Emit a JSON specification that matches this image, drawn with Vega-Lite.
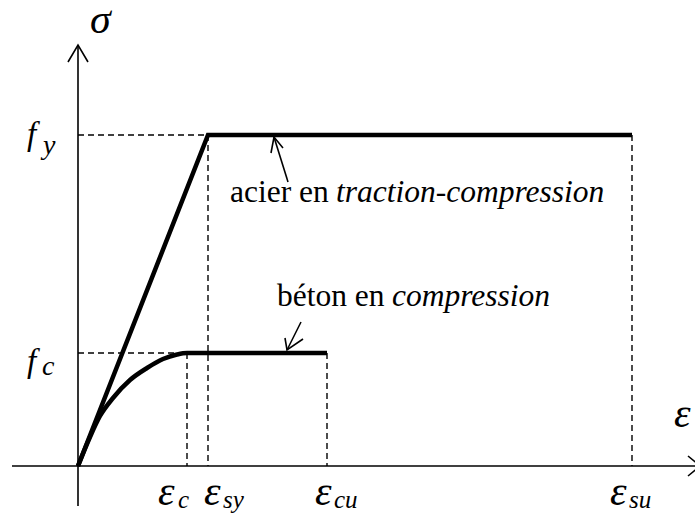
{
  "$schema": "https://vega.github.io/schema/vega-lite/v6.json",
  "width": 695,
  "height": 516,
  "autosize": "none",
  "padding": 0,
  "background": "white",
  "config": {"view": {"stroke": null}, "text": {"font": "Liberation Serif", "color": "black"}},
  "datasets": {
    "thin": [
      {"seg": "yaxis", "o": 0, "x": 0, "y": -4},
      {"seg": "yaxis", "o": 1, "x": 0, "y": 42.1},
      {"seg": "yarrow", "o": 0, "x": -1, "y": 40.4},
      {"seg": "yarrow", "o": 1, "x": 0, "y": 42.1},
      {"seg": "yarrow", "o": 2, "x": 1, "y": 40.4},
      {"seg": "xaxis", "o": 0, "x": -6.6, "y": 0},
      {"seg": "xaxis", "o": 1, "x": 62.2, "y": 0},
      {"seg": "xarrow", "o": 0, "x": 61, "y": 1},
      {"seg": "xarrow", "o": 1, "x": 62.2, "y": 0},
      {"seg": "xarrow", "o": 2, "x": 61, "y": -1},
      {"seg": "sarrow", "o": 0, "x": 21.0, "y": 28.4},
      {"seg": "sarrow", "o": 1, "x": 19.6, "y": 32.9},
      {"seg": "shead", "o": 0, "x": 19.3, "y": 31.3},
      {"seg": "shead", "o": 1, "x": 19.6, "y": 32.9},
      {"seg": "shead", "o": 2, "x": 20.5, "y": 31.8},
      {"seg": "carrow", "o": 0, "x": 22.3, "y": 14.4},
      {"seg": "carrow", "o": 1, "x": 20.9, "y": 11.6},
      {"seg": "chead", "o": 0, "x": 20.7, "y": 12.8},
      {"seg": "chead", "o": 1, "x": 20.9, "y": 11.6},
      {"seg": "chead", "o": 2, "x": 22.5, "y": 12.7}
    ],
    "dashed": [
      {"seg": "fy", "o": 0, "x": 0, "y": 33.1},
      {"seg": "fy", "o": 1, "x": 13, "y": 33.1},
      {"seg": "esy", "o": 0, "x": 13, "y": 33.1},
      {"seg": "esy", "o": 1, "x": 13, "y": 0},
      {"seg": "fc", "o": 0, "x": 0, "y": 11.3},
      {"seg": "fc", "o": 1, "x": 10.9, "y": 11.3},
      {"seg": "ec", "o": 0, "x": 10.9, "y": 11.3},
      {"seg": "ec", "o": 1, "x": 10.9, "y": 0},
      {"seg": "ecu", "o": 0, "x": 24.9, "y": 11.3},
      {"seg": "ecu", "o": 1, "x": 24.9, "y": 0},
      {"seg": "esu", "o": 0, "x": 55.4, "y": 33.1},
      {"seg": "esu", "o": 1, "x": 55.4, "y": 0}
    ],
    "steel": [
      {"o": 0, "x": 0, "y": 0},
      {"o": 1, "x": 13, "y": 33.1},
      {"o": 2, "x": 55.4, "y": 33.1}
    ],
    "concrete": [
      {"o": 0, "x": 0, "y": 0},
      {"o": 1, "x": 1.2, "y": 2.9},
      {"o": 2, "x": 2.2, "y": 5.0},
      {"o": 3, "x": 3.5, "y": 6.8},
      {"o": 4, "x": 5.2, "y": 8.6},
      {"o": 5, "x": 6.9, "y": 9.8},
      {"o": 6, "x": 8.5, "y": 10.7},
      {"o": 7, "x": 9.9, "y": 11.15},
      {"o": 8, "x": 10.9, "y": 11.3},
      {"o": 9, "x": 24.9, "y": 11.3}
    ],
    "labels": [
      {"kind": "greek", "x": 1.2, "y": 43.3, "t": "σ"},
      {"kind": "greek", "x": 59.6, "y": 3.9, "t": "ε"},
      {"kind": "greek", "x": 8.0, "y": -3.9, "t": "ε"},
      {"kind": "greek", "x": 12.6, "y": -3.9, "t": "ε"},
      {"kind": "greek", "x": 23.7, "y": -3.9, "t": "ε"},
      {"kind": "greek", "x": 53.2, "y": -3.9, "t": "ε"},
      {"kind": "esub", "x": 10.0, "y": -4.2, "t": "c"},
      {"kind": "esub", "x": 14.5, "y": -4.2, "t": "sy"},
      {"kind": "esub", "x": 25.6, "y": -4.2, "t": "cu"},
      {"kind": "esub", "x": 55.1, "y": -4.2, "t": "su"},
      {"kind": "f", "x": -5.1, "y": 32.1, "t": "f"},
      {"kind": "f", "x": -5.1, "y": 9.4, "t": "f"},
      {"kind": "fsub", "x": -3.5, "y": 31.2, "t": "y"},
      {"kind": "fsub", "x": -3.6, "y": 9.1, "t": "c"},
      {"kind": "regular", "x": 15.2, "y": 26.4, "t": "acier en"},
      {"kind": "italic", "x": 25.8, "y": 26.4, "t": "traction-compression"},
      {"kind": "regular", "x": 19.9, "y": 16.0, "t": "béton en"},
      {"kind": "italic", "x": 31.4, "y": 16.0, "t": "compression"}
    ]
  },
  "encoding": {
    "x": {"field": "x", "type": "quantitative", "scale": {"domain": [-7.8, 61.7], "nice": false, "zero": false}, "axis": null},
    "y": {"field": "y", "type": "quantitative", "scale": {"domain": [-5.0, 46.6], "nice": false, "zero": false}, "axis": null}
  },
  "layer": [
    {
      "data": {"name": "thin"},
      "mark": {"type": "line", "color": "black", "strokeWidth": 1.6, "strokeJoin": "miter"},
      "encoding": {"detail": {"field": "seg"}, "order": {"field": "o", "type": "quantitative"}}
    },
    {
      "data": {"name": "dashed"},
      "mark": {"type": "line", "color": "black", "strokeWidth": 1.4, "strokeDash": [6, 4]},
      "encoding": {"detail": {"field": "seg"}, "order": {"field": "o", "type": "quantitative"}}
    },
    {
      "data": {"name": "steel"},
      "mark": {"type": "line", "color": "black", "strokeWidth": 4.5, "strokeJoin": "miter", "strokeCap": "butt"},
      "encoding": {"order": {"field": "o", "type": "quantitative"}}
    },
    {
      "data": {"name": "concrete"},
      "mark": {"type": "line", "color": "black", "strokeWidth": 4.5, "interpolate": "monotone", "strokeCap": "butt"},
      "encoding": {"order": {"field": "o", "type": "quantitative"}}
    },
    {
      "data": {"name": "labels"},
      "transform": [{"filter": "datum.kind === 'greek'"}],
      "mark": {"type": "text", "font": "Liberation Serif", "fontStyle": "italic", "fontSize": 42, "align": "left", "baseline": "alphabetic"},
      "encoding": {"text": {"field": "t"}}
    },
    {
      "data": {"name": "labels"},
      "transform": [{"filter": "datum.kind === 'esub'"}],
      "mark": {"type": "text", "font": "Liberation Serif", "fontStyle": "italic", "fontSize": 25, "align": "left", "baseline": "alphabetic"},
      "encoding": {"text": {"field": "t"}}
    },
    {
      "data": {"name": "labels"},
      "transform": [{"filter": "datum.kind === 'fsub'"}],
      "mark": {"type": "text", "font": "Liberation Serif", "fontStyle": "italic", "fontSize": 28, "align": "left", "baseline": "alphabetic"},
      "encoding": {"text": {"field": "t"}}
    },
    {
      "data": {"name": "labels"},
      "transform": [{"filter": "datum.kind === 'f'"}],
      "mark": {"type": "text", "font": "Liberation Serif", "fontStyle": "italic", "fontSize": 33, "align": "left", "baseline": "alphabetic"},
      "encoding": {"text": {"field": "t"}}
    },
    {
      "data": {"name": "labels"},
      "transform": [{"filter": "datum.kind === 'regular'"}],
      "mark": {"type": "text", "font": "Liberation Serif", "fontSize": 31.5, "align": "left", "baseline": "alphabetic"},
      "encoding": {"text": {"field": "t"}}
    },
    {
      "data": {"name": "labels"},
      "transform": [{"filter": "datum.kind === 'italic'"}],
      "mark": {"type": "text", "font": "Liberation Serif", "fontStyle": "italic", "fontSize": 31.5, "align": "left", "baseline": "alphabetic"},
      "encoding": {"text": {"field": "t"}}
    }
  ]
}
